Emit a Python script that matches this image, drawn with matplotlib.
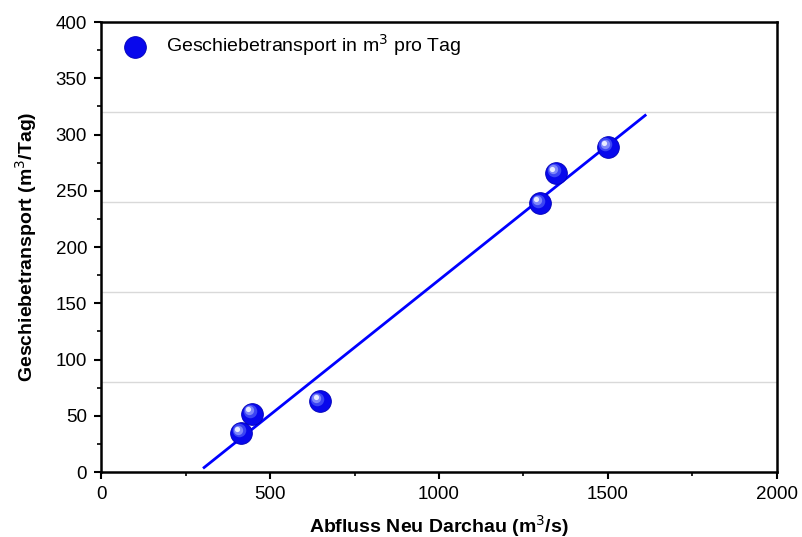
import numpy as np
import matplotlib
matplotlib.use("Agg")
import matplotlib.pyplot as plt
from matplotlib.transforms import offset_copy

plt.rcParams['font.family'] = ['Liberation Sans', 'DejaVu Sans']

# Messwerte
abfluss = [415, 447, 647, 1300, 1347, 1500]
geschiebe = [34.7, 52, 63, 239, 266, 289]
fit_x = [305, 1610]
fit_y = [4, 317]

fig = plt.figure(figsize=(8.03, 5.37), dpi=100)
ax = fig.add_axes([0.1258, 0.121, 0.8418, 0.838])

for yg in [80, 160, 240, 320]:
    ax.axhline(yg, color='#d9d9d9', lw=1, zorder=0)

ax.plot(fit_x, fit_y, color='#0000ff', lw=2, zorder=2)

# Kugel-Marker: blauer Kreis + weicher Glanzpunkt
sc = ax.scatter(abfluss, geschiebe, s=245, color='#0808ec', edgecolors='#0000b8',
                linewidths=0.6, zorder=3, label='Geschiebetransport in m$^3$ pro Tag')
for k, (sz, col) in enumerate([(95, '#3b44f4'), (45, '#7f88fa'), (14, '#e8ecff')]):
    hl = offset_copy(ax.transData, fig=fig, x=-2.5 - k * 0.8, y=2.5 + k * 0.8, units='dots')
    ax.scatter(abfluss, geschiebe, s=sz, color=col, linewidths=0,
               transform=hl, zorder=4 + k)

ax.set_xlim(0, 2000)
ax.set_ylim(0, 400)
ax.set_xticks([0, 500, 1000, 1500, 2000])
ax.set_yticks(range(0, 401, 50))
ax.set_xticks(range(250, 2000, 500), minor=True)
ax.set_yticks(range(25, 400, 50), minor=True)

ax.tick_params(which='major', direction='out', length=5, width=1.5, labelsize=13.5,
               colors='black', pad=5)
ax.tick_params(which='minor', direction='out', length=3, width=1.2)
ax.tick_params(top=False, right=False)
for sp in ax.spines.values():
    sp.set_linewidth(1.8)

ax.set_xlabel('Abfluss Neu Darchau (m$^3$/s)', fontsize=14, fontweight='bold', labelpad=7)
ax.set_ylabel('Geschiebetransport (m$^3$/Tag)', fontsize=14, fontweight='bold', labelpad=12)

ax.legend(loc='upper left', bbox_to_anchor=(0.004, 1.003), frameon=False, fontsize=14,
          handletextpad=0.6, borderaxespad=0.2, scatterpoints=1)

fig.savefig('out.png', dpi=100)
